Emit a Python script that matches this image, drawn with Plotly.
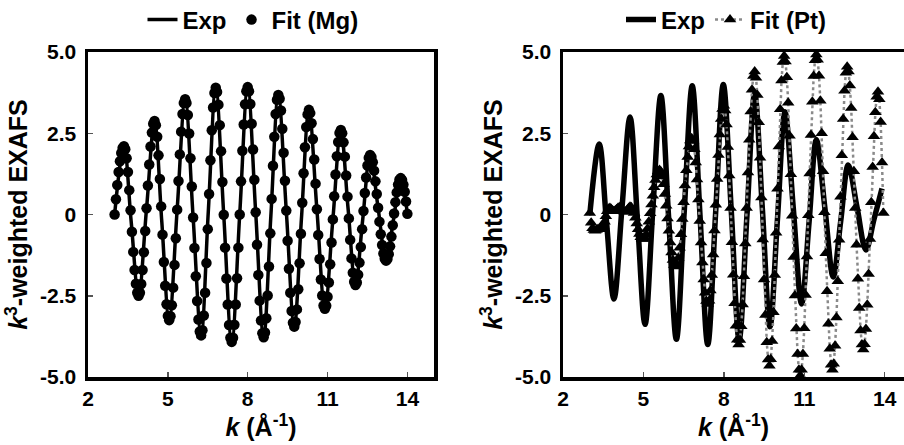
import plotly.graph_objects as go

# ---------------- data ----------------
# Fit grid: k from 3.00 in steps of 0.05 Å^-1
K_START = 3.0
K_STEP = 0.05

# Left panel: experimental curve (extrema and crossings)
exp_left_k = [3.0, 3.35, 3.62, 3.9, 4.2, 4.5, 4.77, 5.05, 5.35, 5.65, 5.95, 6.25, 6.52, 6.8,
              7.1, 7.4, 7.7, 8.0, 8.3, 8.6, 8.87, 9.15, 9.45, 9.75, 10.02, 10.3, 10.6, 10.9,
              11.2, 11.5, 11.77, 12.05, 12.32, 12.6, 12.9, 13.2, 13.48, 13.75, 14.0]
exp_left_v = [0.0, 2.1, -0.2, -2.5, 0.19, 2.88, -0.19, -3.25, 0.15, 3.55, -0.09, -3.72, 0.09, 3.9,
              -0.01, -3.92, 0.0, 3.92, 0.07, -3.78, -0.05, 3.68, 0.12, -3.45, -0.12, 3.22, 0.16, -2.9,
              -0.15, 2.6, 0.2, -2.17, -0.17, 1.83, 0.2, -1.42, -0.15, 1.12, 0.02]

# Left panel: Fit (Mg), k = 3.00 ... 14.00
fit_mg = [0.00, 0.47, 0.91, 1.31, 1.64, 1.89, 2.05, 2.10, 2.01, 1.73, 1.31, 0.75, 0.13, -0.53,
          -1.15, -1.71, -2.13, -2.41, -2.50, -2.41, -2.14, -1.71, -1.16, -0.51, 0.19, 0.89, 1.54,
          2.09, 2.52, 2.79, 2.88, 2.75, 2.39, 1.82, 1.09, 0.25, -0.62, -1.46, -2.19, -2.76, -3.12,
          -3.25, -3.13, -2.79, -2.25, -1.55, -0.73, 0.15, 1.03, 1.85, 2.55, 3.09, 3.43, 3.55, 3.43,
          3.06, 2.49, 1.73, 0.86, -0.09, -1.03, -1.90, -2.66, -3.23, -3.60, -3.72, -3.56, -3.11,
          -2.41, -1.49, -0.45, 0.63, 1.67, 2.59, 3.29, 3.74, 3.90, 3.77, 3.38, 2.75, 1.95, 1.00,
          -0.01, -1.02, -1.97, -2.77, -3.40, -3.79, -3.92, -3.79, -3.39, -2.77, -1.96, -1.02, 0.00,
          1.02, 1.96, 2.77, 3.39, 3.79, 3.92, 3.79, 3.40, 2.79, 2.00, 1.07, 0.07, -0.93, -1.86,
          -2.65, -3.26, -3.65, -3.78, -3.63, -3.19, -2.49, -1.60, -0.58, 0.48, 1.50, 2.39, 3.09,
          3.53, 3.68, 3.56, 3.20, 2.64, 1.90, 1.04, 0.12, -0.81, -1.67, -2.41, -2.97, -3.33, -3.45,
          -3.31, -2.92, -2.30, -1.50, -0.59, 0.36, 1.27, 2.07, 2.69, 3.08, 3.22, 3.12, 2.81, 2.32,
          1.69, 0.95, 0.16, -0.63, -1.37, -2.00, -2.49, -2.80, -2.90, -2.81, -2.53, -2.09, -1.53,
          -0.86, -0.15, 0.56, 1.23, 1.79, 2.23, 2.51, 2.60, 2.50, 2.22, 1.78, 1.20, 0.55, -0.12,
          -0.78, -1.35, -1.79, -2.07, -2.17, -2.09, -1.85, -1.48, -1.00, -0.45, 0.11, 0.66, 1.14,
          1.51, 1.75, 1.83, 1.77, 1.61, 1.35, 1.02, 0.63, 0.21, -0.22, -0.61, -0.94, -1.20, -1.36,
          -1.42, -1.37, -1.22, -0.98, -0.68, -0.33, 0.03, 0.38, 0.68, 0.92, 1.07, 1.12, 1.06, 0.92,
          0.70, 0.40, 0.02]

# Right panel: experimental curve (extrema and crossings)
exp_right_k = [3.0, 3.35, 3.62, 3.9, 4.2, 4.5, 4.78, 5.06, 5.35, 5.65, 5.94, 6.23, 6.52, 6.82,
               7.11, 7.4, 7.69, 7.98, 8.28, 8.57, 8.86, 9.15, 9.44, 9.72, 10.0, 10.28, 10.59, 10.9,
               11.18, 11.45, 11.77, 12.08, 12.36, 12.64, 12.97, 13.3, 13.6, 13.9]
exp_right_v = [0.0, 2.17, -0.2, -2.6, 0.2, 3.0, -0.2, -3.38, 0.14, 3.66, -0.09, -3.84, 0.06, 3.96,
               -0.02, -4.0, 0.0, 4.0, 0.07, -3.85, -0.06, 3.72, 0.13, -3.45, -0.14, 3.16, 0.2, -2.75,
               -0.22, 2.3, 0.19, -1.92, -0.2, 1.52, 0.21, -1.09, -0.15, 0.8]

# Right panel: Fit (Pt), k = 3.00 ... 13.95
fit_pt = [0.05, -0.25, -0.42, -0.48, -0.50, -0.48, -0.45, -0.44, -0.45, -0.42, -0.35, -0.22,
          -0.05, 0.10, 0.18, 0.20, 0.17, 0.12, 0.10, 0.12, 0.16, 0.20, 0.22, 0.20, 0.15, 0.10, 0.08,
          0.10, 0.15, 0.20, 0.24, 0.22, 0.15, 0.05, -0.10, -0.28, -0.45, -0.60, -0.70, -0.75, -0.75,
          -0.71, -0.61, -0.44, -0.22, 0.04, 0.31, 0.58, 0.84, 1.06, 1.23, 1.33, 1.37, 1.32, 1.17,
          0.93, 0.63, 0.27, -0.12, -0.50, -0.86, -1.17, -1.40, -1.55, -1.60, -1.53, -1.34, -1.02,
          -0.61, -0.14, 0.38, 0.89, 1.36, 1.77, 2.09, 2.28, 2.35, 2.26, 2.01, 1.60, 1.08, 0.46,
          -0.20, -0.86, -1.48, -2.00, -2.41, -2.66, -2.75, -2.65, -2.34, -1.86, -1.23, -0.49, 0.30,
          1.09, 1.83, 2.46, 2.94, 3.25, 3.35, 3.20, 2.77, 2.08, 1.20, 0.20, -0.85, -1.85, -2.73,
          -3.42, -3.85, -4.00, -3.86, -3.44, -2.77, -1.90, -0.89, 0.20, 1.29, 2.30, 3.17, 3.84,
          4.26, 4.40, 4.21, 3.68, 2.84, 1.75, 0.52, -0.77, -2.00, -3.09, -3.93, -4.46, -4.65, -4.45,
          -3.89, -3.01, -1.86, -0.56, 0.79, 2.09, 3.24, 4.12, 4.69, 4.88, 4.71, 4.22, 3.44, 2.42,
          1.24, -0.04, -1.31, -2.49, -3.51, -4.29, -4.78, -4.95, -4.78, -4.29, -3.50, -2.48, -1.29,
          -0.02, 1.26, 2.45, 3.47, 4.26, 4.75, 4.92, 4.76, 4.27, 3.50, 2.50, 1.33, 0.07, -1.19,
          -2.36, -3.36, -4.13, -4.62, -4.78, -4.59, -4.04, -3.17, -2.05, -0.78, 0.55, 1.82, 2.94,
          3.81, 4.36, 4.55, 4.40, 3.97, 3.28, 2.38, 1.33, 0.20, -0.93, -1.98, -2.88, -3.57, -4.00,
          -4.15, -3.99, -3.52, -2.78, -1.83, -0.75, 0.38, 1.46, 2.41, 3.15, 3.62, 3.78, 3.55, 2.85,
          1.60, 0.05]

k_mg = [round(K_START + K_STEP * i, 2) for i in range(len(fit_mg))]
k_pt = [round(K_START + K_STEP * i, 2) for i in range(len(fit_pt))]

x_ticks = [2, 5, 8, 11, 14]
y_ticks = [-5.0, -2.5, 0.0, 2.5, 5.0]
y_tick_text = ["-5.0", "-2.5", "0", "2.5", "5.0"]

# ---------------- figure ----------------
W, H = 904, 445
FONT = "Liberation Sans, Arial, sans-serif"

fig = go.Figure()

fig.add_trace(go.Scatter(x=exp_left_k, y=exp_left_v, mode="lines", name="Exp",
                         line=dict(color="black", width=3.5, shape="spline"),
                         xaxis="x", yaxis="y", legend="legend"))
fig.add_trace(go.Scatter(x=k_mg, y=fit_mg, mode="markers", name="Fit (Mg)",
                         marker=dict(symbol="circle", size=10.5, color="black"),
                         xaxis="x", yaxis="y", legend="legend"))

fig.add_trace(go.Scatter(x=exp_right_k, y=exp_right_v, mode="lines", name="Exp",
                         line=dict(color="black", width=5.5, shape="spline"),
                         xaxis="x2", yaxis="y2", legend="legend2"))
fig.add_trace(go.Scatter(x=k_pt, y=fit_pt, mode="lines+markers", name="Fit (Pt)",
                         line=dict(color="#8a8a8a", width=2.5, dash="dot"),
                         marker=dict(symbol="triangle-up", size=11, color="black"),
                         xaxis="x2", yaxis="y2", legend="legend2"))


def px_x(p):
    return p / W


def px_y(p):
    return 1 - p / H


tickfont = dict(family=FONT, size=21, color="black", weight="bold")
titlefont = dict(family=FONT, size=25, color="black", weight="bold")
legendfont = dict(family=FONT, size=24, color="black", weight="bold")

common_x = dict(tickvals=x_ticks, ticks="inside", ticklen=5, tickwidth=1.5, tickcolor="#555",
                showline=True, linewidth=3.5, linecolor="black", showgrid=False, zeroline=False,
                tickfont=tickfont, ticklabelstandoff=0,
                title=dict(text="<b><i>k</i> (Å<sup>-1</sup>)</b>", font=titlefont, standoff=6))
common_y = dict(range=[-5, 5], tickvals=y_ticks, ticktext=y_tick_text, ticks="inside", ticklen=5,
                tickwidth=1.5, tickcolor="#555", showline=True, linewidth=3.5, linecolor="black",
                showgrid=False, zeroline=False, tickfont=tickfont, ticklabelstandoff=4,
                title=dict(text="<b><i>k</i><sup>3</sup>-weighted EXAFS</b>", font=titlefont,
                           standoff=6))

fig.update_layout(
    width=W, height=H,
    margin=dict(l=0, r=0, t=0, b=0, autoexpand=False),
    paper_bgcolor="white", plot_bgcolor="white",
    font=dict(family=FONT, color="black"),
    xaxis=dict(domain=[px_x(88), px_x(434)], range=[2, 15], anchor="y", mirror=True, **common_x),
    yaxis=dict(domain=[px_y(377), px_y(52)], anchor="x", mirror=True, **common_y),
    xaxis2=dict(domain=[px_x(563), 1.0], range=[2, 14.72], anchor="y2", mirror=True, **common_x),
    yaxis2=dict(domain=[px_y(377), px_y(52)], anchor="x2", mirror=False, **common_y),
    legend=dict(orientation="h", x=px_x(253), xanchor="center", y=px_y(20), yanchor="middle",
                font=legendfont, bgcolor="rgba(0,0,0,0)", itemclick=False, tracegroupgap=0),
    legend2=dict(orientation="h", x=px_x(726), xanchor="center", y=px_y(20), yanchor="middle",
                 font=legendfont, bgcolor="rgba(0,0,0,0)", itemclick=False, tracegroupgap=0),
    showlegend=True,
)

fig.write_html("out.html",
               config={"displayModeBar": False, "staticPlot": True},
               post_script="document.body.style.margin='0';document.body.style.overflow='hidden';")
